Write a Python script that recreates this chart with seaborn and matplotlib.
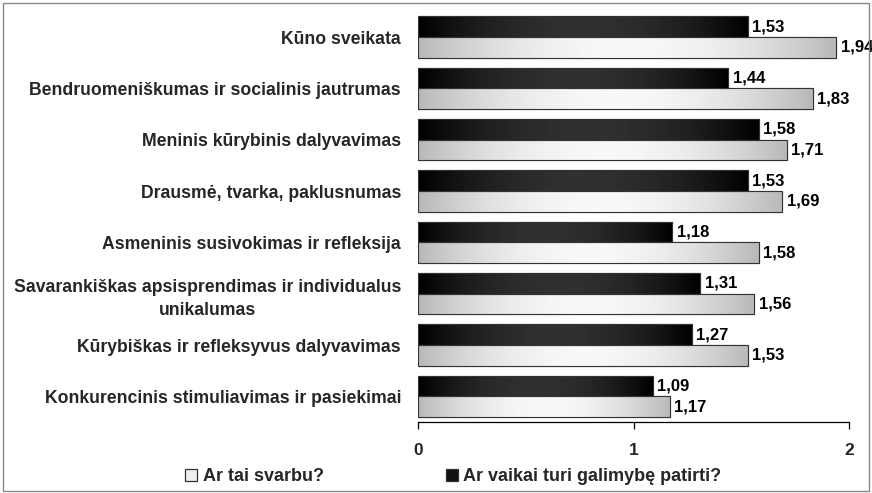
import numpy as np
import pandas as pd
import matplotlib
matplotlib.use("Agg")
import matplotlib.pyplot as plt
import seaborn as sns
from matplotlib.patches import Rectangle
from matplotlib.lines import Line2D

categories = [
    "Kūno sveikata",
    "Bendruomeniškumas ir socialinis jautrumas",
    "Meninis kūrybinis dalyvavimas",
    "Drausmė, tvarka, paklusnumas",
    "Asmeninis susivokimas ir refleksija",
    "Savarankiškas apsisprendimas ir individualus\nunikalumas",
    "Kūrybiškas ir refleksyvus dalyvavimas",
    "Konkurencinis stimuliavimas ir pasiekimai",
]
series_important = "Ar tai svarbu?"
series_possible = "Ar vaikai turi galimybę patirti?"
values_important = [1.94, 1.83, 1.71, 1.69, 1.58, 1.56, 1.53, 1.17]
values_possible = [1.53, 1.44, 1.58, 1.53, 1.18, 1.31, 1.27, 1.09]
xticks = [0, 1, 2]

df = pd.DataFrame({
    "category": categories * 2,
    "series": [series_possible] * len(categories) + [series_important] * len(categories),
    "value": values_possible + values_important,
})

sns.set_theme(style="white")
plt.rcParams["font.family"] = ["Liberation Sans", "DejaVu Sans"]
plt.rcParams["font.weight"] = "bold"

fig = plt.figure(figsize=(8.72, 4.93), dpi=100)
ax = fig.add_axes([0.479, 0.144, 0.495, 0.833])

sns.barplot(data=df, y="category", x="value", hue="series",
            hue_order=[series_possible, series_important], order=categories,
            palette=["#000000", "#d0d0d0"], width=0.8, edgecolor="#333333",
            linewidth=0.8, ax=ax, legend=False, orient="h")

# gradient fills clipped to each bar
grad_x = np.linspace(0, 1, 256)
shape = 1 - (2 * grad_x - 1) ** 2  # 0 at edges, 1 in middle
for container, (lo, hi) in zip(ax.containers, [(0.0, 0.19), (0.72, 0.97)]):
    for patch in container:
        x0, y0 = patch.get_x(), patch.get_y()
        w, h = patch.get_width(), patch.get_height()
        vals = lo + (hi - lo) * shape
        img = np.tile(vals, (2, 1))
        im = ax.imshow(img, cmap="gray", vmin=0, vmax=1, aspect="auto",
                       extent=[x0, x0 + w, y0 + h, y0], interpolation="bilinear",
                       zorder=patch.get_zorder() + 0.1)
        im.set_clip_path(patch)
        edge = Rectangle((x0, y0), w, h, fill=False, edgecolor="#333333",
                         linewidth=0.8, zorder=patch.get_zorder() + 0.2)
        ax.add_patch(edge)

for container, vals in zip(ax.containers, [values_possible, values_important]):
    ax.bar_label(container, labels=[f"{v:.2f}".replace(".", ",") for v in vals],
                 padding=3, fontsize=12, fontweight="bold", color="#000000")

ax.set_xlim(0, 2)
ax.set_ylim(len(categories) - 0.5, -0.5)
ax.set_xticks(xticks)
ax.set_xticklabels([str(t) for t in xticks], fontsize=12.5, fontweight="bold")
ax.set_xlabel("")
ax.set_ylabel("")
for s in ["top", "right", "left"]:
    ax.spines[s].set_visible(False)
ax.spines["bottom"].set_color("#000000")
ax.spines["bottom"].set_linewidth(0.9)
ax.tick_params(axis="x", direction="out", length=5, width=0.9, color="#000000",
               bottom=True, pad=10)
ax.tick_params(axis="y", length=0, pad=12)
for lbl in ax.get_yticklabels():
    lbl.set_fontsize(12.7)
    lbl.set_fontweight("bold")
    lbl.set_multialignment("center")
    lbl.set_linespacing(1.45)

handles = [
    Line2D([], [], marker="s", linestyle="none", markersize=8.5,
           markerfacecolor="#eeeeee", markeredgecolor="#333333", markeredgewidth=0.9),
    Line2D([], [], marker="s", linestyle="none", markersize=8.5,
           markerfacecolor="#111111", markeredgecolor="#333333", markeredgewidth=0.9),
]
fig.legend(handles, [series_important, series_possible], loc="center",
           bbox_to_anchor=(0.518, 0.033), ncol=2, frameon=False,
           prop={"size": 13, "weight": "bold"}, handletextpad=0.15,
           columnspacing=6.6, handlelength=1.0)

fig.patches.append(Rectangle((0.004, 0.004), 0.992, 0.99, transform=fig.transFigure,
                             fill=False, edgecolor="#888888", linewidth=1.0))

fig.savefig("out.png", dpi=100, facecolor="white")
